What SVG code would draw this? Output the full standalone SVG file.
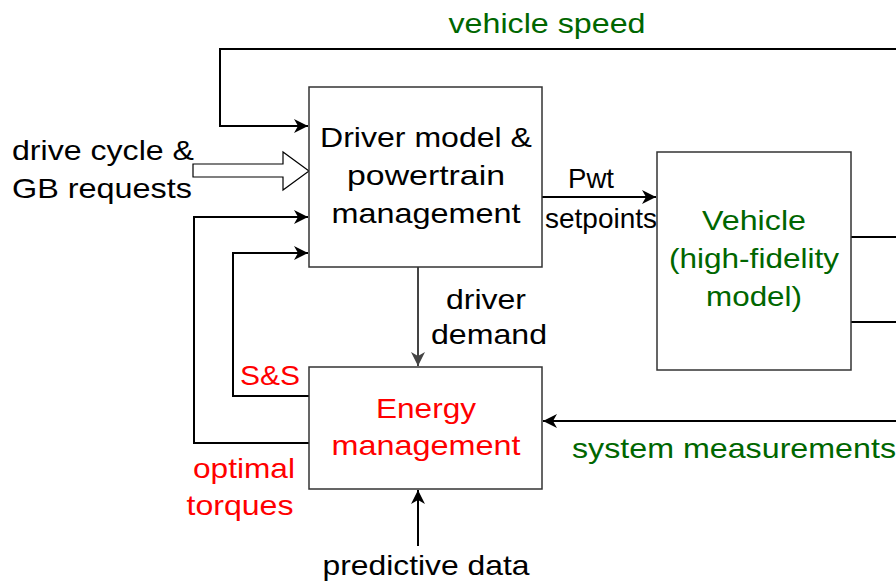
<svg xmlns="http://www.w3.org/2000/svg" width="896" height="582" viewBox="0 0 896 582">
<style>
  text { font-family: "Liberation Sans", Arial, Helvetica, sans-serif; font-size: 28px; }
  .c { text-anchor: middle; }
  .k { fill: #000000; }
  .g { fill: #006600; }
  .r { fill: #ff0000; }
  .box { fill: #ffffff; stroke: #333333; stroke-width: 1.5; }
  .ln { fill: none; stroke: #000000; stroke-width: 2; }
  .gray { fill: none; stroke: #444444; stroke-width: 2; }
</style>
<defs>
  <marker id="ah" markerUnits="userSpaceOnUse" markerWidth="16" markerHeight="14" refX="14" refY="7" orient="auto">
    <path d="M0,0 L14,7 L0,14 L4,7 Z" fill="#000000"/>
  </marker>
  <marker id="ahg" markerUnits="userSpaceOnUse" markerWidth="16" markerHeight="14" refX="14" refY="7" orient="auto">
    <path d="M0,0 L14,7 L0,14 L4,7 Z" fill="#444444"/>
  </marker>
</defs>
<rect width="896" height="582" fill="#ffffff"/>

<g id="connectors">
  <path class="ln" d="M896,49 L220,49 L220,126 L308,126" marker-end="url(#ah)"/>
  <path d="M193,164 L283,164 L283,152 L309,171 L283,190 L283,177 L193,177 Z" fill="#ffffff" stroke="#000000" stroke-width="1.2"/>
  <path class="ln" d="M309,443 L194,443 L194,217 L308,217" marker-end="url(#ah)"/>
  <path class="ln" d="M309,396 L233,396 L233,253 L308,253" marker-end="url(#ah)"/>
  <path class="gray" d="M418,267 L418,366" marker-end="url(#ahg)"/>
  <path class="ln" d="M418,546 L418,490" marker-end="url(#ah)"/>
  <path class="ln" d="M542,197 L656,197" marker-end="url(#ah)"/>
  <path class="ln" d="M851,237 L896,237"/>
  <path class="ln" d="M851,322 L896,322"/>
  <path class="ln" d="M896,421 L543,421" marker-end="url(#ah)"/>
</g>

<g id="driver-model">
  <rect class="box" x="309" y="87" width="233" height="180"/>
  <text class="c k" x="426" y="147" textLength="212" lengthAdjust="spacingAndGlyphs">Driver model &amp;</text>
  <text class="c k" x="426" y="185" textLength="158" lengthAdjust="spacingAndGlyphs">powertrain</text>
  <text class="c k" x="426" y="223" textLength="189" lengthAdjust="spacingAndGlyphs">management</text>
</g>

<g id="vehicle">
  <rect class="box" x="657" y="152" width="194" height="218"/>
  <text class="c g" x="754" y="230" textLength="104" lengthAdjust="spacingAndGlyphs">Vehicle</text>
  <text class="c g" x="754" y="268" textLength="170" lengthAdjust="spacingAndGlyphs">(high-fidelity</text>
  <text class="c g" x="754" y="306" textLength="96" lengthAdjust="spacingAndGlyphs">model)</text>
</g>

<g id="energy-management">
  <rect class="box" x="309" y="367" width="233" height="122"/>
  <text class="c r" x="426" y="418" textLength="100" lengthAdjust="spacingAndGlyphs">Energy</text>
  <text class="c r" x="426" y="455" textLength="189" lengthAdjust="spacingAndGlyphs">management</text>
</g>

<g id="labels">
  <text class="c g" x="547" y="33" textLength="197" lengthAdjust="spacingAndGlyphs">vehicle speed</text>
  <text class="k" x="12" y="160" textLength="182" lengthAdjust="spacingAndGlyphs">drive cycle &amp;</text>
  <text class="k" x="12" y="198" textLength="180" lengthAdjust="spacingAndGlyphs">GB requests</text>
  <text class="c k" x="591" y="188" font-size="24" textLength="46" lengthAdjust="spacingAndGlyphs">Pwt</text>
  <text class="c k" x="601" y="228" font-size="24" textLength="112" lengthAdjust="spacingAndGlyphs">setpoints</text>
  <text class="c k" x="486" y="309" textLength="80" lengthAdjust="spacingAndGlyphs">driver</text>
  <text class="c k" x="489" y="344" textLength="116" lengthAdjust="spacingAndGlyphs">demand</text>
  <text class="c r" x="270" y="385" textLength="60" lengthAdjust="spacingAndGlyphs">S&amp;S</text>
  <text class="c r" x="244" y="478" textLength="102" lengthAdjust="spacingAndGlyphs">optimal</text>
  <text class="c r" x="240" y="515" textLength="107" lengthAdjust="spacingAndGlyphs">torques</text>
  <text class="c k" x="426" y="575" textLength="207" lengthAdjust="spacingAndGlyphs">predictive data</text>
  <text class="c g" x="734" y="458" textLength="324" lengthAdjust="spacingAndGlyphs">system measurements</text>
</g>
</svg>
